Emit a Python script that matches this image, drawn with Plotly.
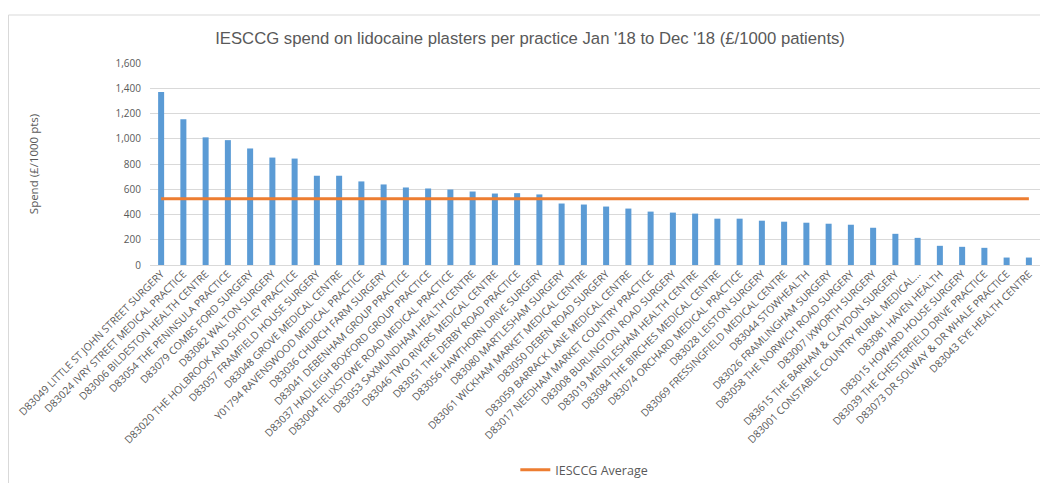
import plotly.graph_objects as go

practices = [
    "D83049 LITTLE ST JOHN STREET SURGERY",
    "D83024 IVRY STREET MEDICAL PRACTICE",
    "D83006 BILDESTON HEALTH CENTRE",
    "D83054 THE PENINSULA PRACTICE",
    "D83079 COMBS FORD SURGERY",
    "D83082 WALTON SURGERY",
    "D83020 THE HOLBROOK AND SHOTLEY PRACTICE",
    "D83057 FRAMFIELD HOUSE SURGERY",
    "D83048 GROVE MEDICAL CENTRE",
    "Y01794 RAVENSWOOD MEDICAL PRACTICE",
    "D83036 CHURCH FARM SURGERY",
    "D83041 DEBENHAM GROUP PRACTICE",
    "D83037 HADLEIGH BOXFORD GROUP PRACTICE",
    "D83004 FELIXSTOWE ROAD MEDICAL PRACTICE",
    "D83053 SAXMUNDHAM HEALTH CENTRE",
    "D83046 TWO RIVERS MEDICAL CENTRE",
    "D83051 THE DERBY ROAD PRACTICE",
    "D83056 HAWTHORN DRIVE SURGERY",
    "D83080 MARTLESHAM SURGERY",
    "D83061 WICKHAM MARKET MEDICAL CENTRE",
    "D83050 DEBEN ROAD SURGERY",
    "D83059 BARRACK LANE MEDICAL CENTRE",
    "D83017 NEEDHAM MARKET COUNTRY PRACTICE",
    "D83008 BURLINGTON ROAD SURGERY",
    "D83019 MENDLESHAM HEALTH CENTRE",
    "D83084 THE BIRCHES MEDICAL CENTRE",
    "D83074 ORCHARD MEDICAL PRACTICE",
    "D83028 LEISTON SURGERY",
    "D83069 FRESSINGFIELD MEDICAL CENTRE",
    "D83044 STOWHEALTH",
    "D83026 FRAMLINGHAM SURGERY",
    "D83058 THE NORWICH ROAD SURGERY",
    "D83007 IXWORTH SURGERY",
    "D83615 THE BARHAM & CLAYDON SURGERY",
    "D83001 CONSTABLE COUNTRY RURAL MEDICAL...",
    "D83081 HAVEN HEALTH",
    "D83015 HOWARD HOUSE SURGERY",
    "D83039 THE CHESTERFIELD DRIVE PRACTICE",
    "D83073 DR SOLWAY & DR WHALE PRACTICE",
    "D83043 EYE HEALTH CENTRE",
]

spend = [
    1370, 1154, 1011, 989, 923, 851, 843, 707, 707, 662,
    638, 614, 606, 598, 582, 566, 569, 559, 487, 479,
    463, 447, 423, 415, 407, 367, 367, 351, 343, 335,
    327, 319, 295, 247, 215, 152, 144, 136, 59, 59,
]

ccg_average = [524] * len(practices)

y_ticks = [0, 200, 400, 600, 800, 1000, 1200, 1400, 1600]

GRAY = "#595959"
SANS = "Open Sans, sans-serif"

fig = go.Figure()
fig.add_trace(go.Bar(
    x=practices, y=spend, name="Spend",
    marker=dict(color="#5B9BD5", line=dict(width=0)),
    showlegend=False,
))
fig.add_trace(go.Scatter(
    x=practices, y=ccg_average, name="IESCCG Average",
    mode="lines", line=dict(color="#ED7D31", width=3),
))

fig.update_layout(
    width=1040, height=475,
    margin=dict(l=142, r=8, t=55, b=218, autoexpand=False),
    paper_bgcolor="white", plot_bgcolor="white",
    bargap=0.73,
    title=dict(
        text="IESCCG spend on lidocaine plasters per practice Jan '18 to Dec '18 (£/1000 patients)",
        x=0.502, xanchor="center", y=0.937, yanchor="middle",
        font=dict(family="Liberation Sans, sans-serif", size=16.7, color=GRAY),
    ),
    font=dict(family=SANS, color=GRAY),
    legend=dict(
        orientation="h", x=0.488, xanchor="center", y=-1.015, yanchor="middle",
        font=dict(family=SANS, size=12.5, color=GRAY),
    ),
    xaxis=dict(
        tickangle=-45, tickfont=dict(family=SANS, size=10.4, color=GRAY),
        showgrid=False, showline=False, ticks="", automargin=False,
        range=[-0.5, len(practices) - 0.5],
    ),
    yaxis=dict(
        range=[0, 1600], tickvals=y_ticks, tickformat=",", automargin=False,
        tickfont=dict(family=SANS, size=10, color=GRAY),
        ticklabelstandoff=8,
        gridcolor="#D9D9D9", gridwidth=1,
        zeroline=True, zerolinecolor="#D9D9D9", zerolinewidth=1,
        showline=False, ticks="", ticklen=0,
        title=dict(text="Spend (£/1000 pts)", standoff=74,
                   font=dict(family=SANS, size=11.5, color=GRAY)),
    ),
    shapes=[dict(
        type="rect", xref="paper", yref="paper",
        x0=-0.159, x1=1.3, y0=-3, y1=1.2376,
        line=dict(color="#D9D9D9", width=1), fillcolor="rgba(0,0,0,0)",
        layer="below",
    )],
)

fig.write_html("out.html")
